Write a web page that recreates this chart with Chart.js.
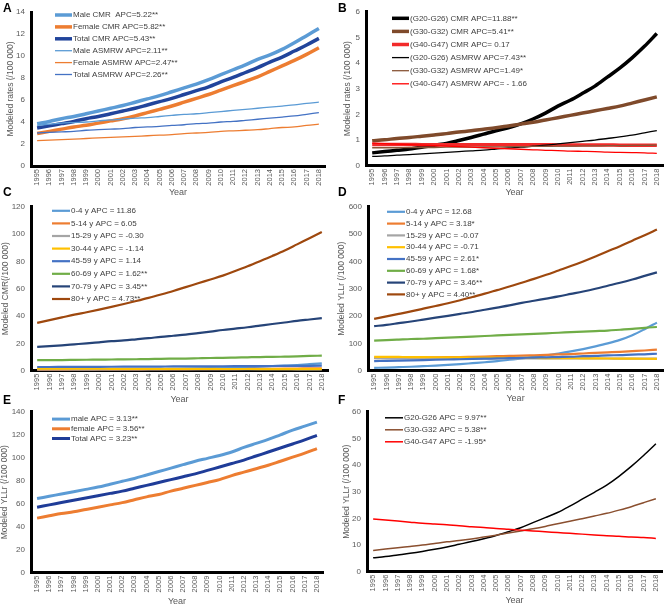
<!DOCTYPE html>
<html>
<head>
<meta charset="utf-8">
<script src="https://cdn.jsdelivr.net/npm/chart.js@4"></script>
<style>
  body { margin: 0; background: #fff; }
  .panel { position: absolute; }
  .tag { position: absolute; font: bold 12px "Liberation Sans", Arial, sans-serif; color: #000; }
</style>
</head>
<body>
<div class="panel" style="left:0;top:0"><canvas id="chartA" width="335" height="200"></canvas></div>
<div class="panel" style="left:335px;top:0"><canvas id="chartB" width="334" height="200"></canvas></div>
<div class="panel" style="left:0;top:196px"><canvas id="chartC" width="335" height="209"></canvas></div>
<div class="panel" style="left:335px;top:196px"><canvas id="chartD" width="334" height="209"></canvas></div>
<div class="panel" style="left:0;top:401px"><canvas id="chartE" width="335" height="206"></canvas></div>
<div class="panel" style="left:335px;top:401px"><canvas id="chartF" width="334" height="206"></canvas></div>
<div class="tag" style="left:3px;top:1px">A</div>
<div class="tag" style="left:338px;top:1px">B</div>
<div class="tag" style="left:3px;top:185px">C</div>
<div class="tag" style="left:338px;top:185px">D</div>
<div class="tag" style="left:3px;top:393px">E</div>
<div class="tag" style="left:338px;top:393px">F</div>
<script>
const years = ["1995", "1996", "1997", "1998", "1999", "2000", "2001", "2002", "2003", "2004", "2005", "2006",
  "2007", "2008", "2009", "2010", "2011", "2012", "2013", "2014", "2015", "2016", "2017", "2018"];

// A - modeled rates by sex
const aLabels = ["Male CMR  APC=5.22**", "Female CMR APC=5.82**", "Total CMR APC=5.43**",
  "Male ASMRW APC=2.11**", "Female ASMRW APC=2.47**", "Total ASMRW APC=2.26**"];
const aMaleCMR = [3.85, 4.05, 4.3, 4.5, 4.75, 5.0, 5.25, 5.5, 5.8, 6.1, 6.4, 6.75, 7.1, 7.45, 7.85, 8.3, 8.75, 9.2, 9.7, 10.1, 10.6, 11.2, 11.85, 12.5];
const aFemaleCMR = [2.95, 3.15, 3.35, 3.55, 3.7, 3.9, 4.1, 4.3, 4.55, 4.85, 5.15, 5.45, 5.8, 6.15, 6.5, 6.9, 7.3, 7.7, 8.1, 8.6, 9.1, 9.6, 10.15, 10.75];
const aTotalCMR = [3.45, 3.65, 3.85, 4.05, 4.3, 4.5, 4.75, 5.0, 5.25, 5.55, 5.85, 6.15, 6.5, 6.85, 7.2, 7.65, 8.05, 8.5, 8.95, 9.45, 9.9, 10.45, 11.0, 11.6];
const aMaleASMRW = [3.7, 3.8, 3.9, 3.95, 4.0, 4.1, 4.2, 4.25, 4.35, 4.4, 4.5, 4.6, 4.7, 4.75, 4.85, 4.95, 5.05, 5.15, 5.25, 5.35, 5.45, 5.55, 5.7, 5.8];
const aFemaleASMRW = [2.3, 2.35, 2.4, 2.45, 2.5, 2.55, 2.6, 2.65, 2.7, 2.75, 2.8, 2.85, 2.95, 3.0, 3.05, 3.15, 3.2, 3.25, 3.3, 3.4, 3.5, 3.55, 3.7, 3.8];
const aTotalASMRW = [3.0, 3.05, 3.1, 3.15, 3.25, 3.3, 3.35, 3.4, 3.5, 3.55, 3.6, 3.7, 3.75, 3.85, 3.9, 4.0, 4.05, 4.15, 4.25, 4.35, 4.45, 4.55, 4.7, 4.85];

// B - modeled rates by disease group
const bLabels = ["(G20-G26) CMR APC=11.88**", "(G30-G32) CMR APC=5.41**", "(G40-G47) CMR APC= 0.17",
  "(G20-G26) ASMRW APC=7.43**", "(G30-G32) ASMRW APC=1.49*", "(G40-G47) ASMRW APC= - 1.66"];
const bG20CMR = [0.5, 0.55, 0.6, 0.65, 0.72, 0.8, 0.87, 0.98, 1.1, 1.23, 1.36, 1.48, 1.63, 1.82, 2.05, 2.32, 2.55, 2.82, 3.1, 3.45, 3.8, 4.2, 4.65, 5.15];
const bG30CMR = [0.97, 1.01, 1.06, 1.1, 1.15, 1.2, 1.25, 1.31, 1.36, 1.42, 1.48, 1.55, 1.62, 1.69, 1.78, 1.87, 1.96, 2.05, 2.14, 2.23, 2.32, 2.44, 2.56, 2.68];
const bG40CMR = [0.83, 0.83, 0.83, 0.83, 0.82, 0.82, 0.82, 0.82, 0.82, 0.82, 0.82, 0.82, 0.82, 0.82, 0.82, 0.81, 0.81, 0.81, 0.81, 0.81, 0.8, 0.8, 0.8, 0.8];
const bG20ASMRW = [0.36, 0.38, 0.41, 0.43, 0.46, 0.49, 0.52, 0.55, 0.58, 0.61, 0.65, 0.69, 0.72, 0.76, 0.8, 0.85, 0.9, 0.95, 1.0, 1.06, 1.12, 1.19, 1.28, 1.37];
const bG30ASMRW = [0.7, 0.7, 0.7, 0.71, 0.71, 0.71, 0.72, 0.72, 0.72, 0.73, 0.73, 0.74, 0.74, 0.75, 0.75, 0.76, 0.76, 0.77, 0.77, 0.78, 0.78, 0.79, 0.79, 0.8];
const bG40ASMRW = [0.88, 0.86, 0.84, 0.82, 0.8, 0.78, 0.76, 0.74, 0.72, 0.7, 0.68, 0.66, 0.64, 0.62, 0.6, 0.59, 0.57, 0.56, 0.55, 0.53, 0.52, 0.51, 0.5, 0.48];

// C - CMR by age group
const cLabels = ["0-4 y APC = 11.86", "5-14 y APC = 6.05", "15-29 y APC = -0.30", "30-44 y APC = -1.14",
  "45-59 y APC = 1.14", "60-69 y APC = 1.62**", "70-79 y APC = 3.45**", "80+ y APC = 4.73**"];
const cAge0 = [0.4, 0.45, 0.5, 0.55, 0.62, 0.7, 0.78, 0.87, 0.97, 1.08, 1.2, 1.35, 1.5, 1.68, 1.88, 2.1, 2.35, 2.63, 2.95, 3.3, 3.7, 4.15, 4.75, 5.4];
const cAge5 = [0.6, 0.62, 0.65, 0.68, 0.7, 0.73, 0.76, 0.8, 0.83, 0.87, 0.9, 0.95, 1.0, 1.05, 1.1, 1.15, 1.2, 1.27, 1.35, 1.42, 1.5, 1.6, 1.7, 1.8];
const cAge15 = [0.95, 0.95, 0.94, 0.94, 0.93, 0.93, 0.92, 0.92, 0.91, 0.91, 0.9, 0.9, 0.9, 0.89, 0.89, 0.88, 0.88, 0.88, 0.87, 0.87, 0.87, 0.86, 0.86, 0.86];
const cAge30 = [1.5, 1.48, 1.46, 1.45, 1.43, 1.42, 1.4, 1.38, 1.37, 1.35, 1.34, 1.32, 1.31, 1.29, 1.28, 1.26, 1.25, 1.23, 1.22, 1.2, 1.19, 1.18, 1.16, 1.15];
const cAge45 = [2.7, 2.7, 2.75, 2.8, 2.8, 2.85, 2.9, 2.95, 3.0, 3.0, 3.05, 3.1, 3.1, 3.15, 3.2, 3.25, 3.3, 3.35, 3.4, 3.45, 3.5, 3.55, 3.6, 3.65];
const cAge60 = [7.8, 7.8, 7.8, 7.9, 8.0, 8.1, 8.2, 8.3, 8.4, 8.5, 8.7, 8.8, 8.9, 9.1, 9.3, 9.4, 9.6, 9.8, 10.0, 10.1, 10.3, 10.5, 10.8, 11.0];
const cAge70 = [17.5, 18, 18.6, 19.3, 20, 20.8, 21.6, 22.2, 23, 23.8, 24.8, 25.6, 26.4, 27.5, 28.6, 29.8, 30.8, 31.8, 33, 34.2, 35.3, 36.5, 37.5, 38.5];
const cAge80 = [35, 37, 39, 41, 42.8, 44.7, 46.7, 48.8, 51, 53.3, 55.8, 58.4, 61.2, 64, 66.8, 69.6, 73, 76.5, 80.2, 84, 88, 92.5, 97, 101.5];

// D - YLLr by age group
const dLabels = ["0-4 y APC = 12.68", "5-14 y APC = 3.18*", "15-29 y APC = -0.07", "30-44 y APC = -0.71",
  "45-59 y APC = 2.61*", "60-69 y APC = 1.68*", "70-79 y APC = 3.46**", "80+ y APC = 4.40**"];
const dAge0 = [10.5, 11.5, 13, 14.5, 16.5, 18.5, 21, 24, 27.5, 31, 35, 40, 45, 50.5, 56.5, 63, 70.5, 79, 89, 100, 113, 130, 152, 176];
const dAge5 = [47, 47, 47.5, 48, 48.5, 49, 49.5, 50, 51, 52, 53, 54, 55, 56.5, 58, 59.5, 61, 63, 65, 67, 69, 71.5, 74, 77];
const dAge15 = [45.5, 45.4, 45.4, 45.3, 45.3, 45.2, 45.2, 45.1, 45.1, 45, 45, 45, 44.9, 44.9, 44.8, 44.8, 44.7, 44.7, 44.6, 44.6, 44.5, 44.5, 44.4, 44.4];
const dAge30 = [51, 50.6, 50.3, 50, 49.6, 49.3, 49, 48.6, 48.3, 48, 47.6, 47.3, 47, 46.6, 46.3, 46, 45.7, 45.4, 45, 44.7, 44.4, 44.1, 43.8, 43.5];
const dAge45 = [35, 36, 37, 38, 39, 40, 41, 42, 43, 44, 45, 46, 47, 48, 49, 50, 51, 53, 54, 56, 57, 59, 60, 62];
const dAge60 = [110, 112, 114, 116, 117, 119, 121, 123, 125, 127, 129, 131, 133, 135, 137, 139, 141, 143, 145, 147, 150, 153, 157, 160];
const dAge70 = [163, 168, 174, 180, 187, 194, 201, 208, 215, 223, 231, 239, 248, 256, 264, 272, 281, 290, 300, 311, 322, 334, 347, 360];
const dAge80 = [190, 199, 208, 217, 227, 237, 247, 258, 270, 282, 295, 308, 322, 336, 351, 367, 383, 400, 418, 437, 456, 476, 496, 517];

// E - YLLr by sex
const eLabels = ["male APC = 3.13**", "female APC = 3.56**", "Total APC = 3.23**"];
const eMale = [64.5, 66.5, 68.5, 70.5, 72.5, 74.5, 77, 79.5, 82, 85, 88, 91, 94, 97, 99.5, 102, 105, 109, 112.5, 116, 120, 124, 127.5, 131];
const eFemale = [47.5, 49.5, 51.5, 53, 55, 57, 59, 61, 63.5, 66, 68, 71, 73.5, 76, 78.5, 81, 84.5, 87.5, 90.5, 93.5, 97, 100.5, 104, 108];
const eTotal = [57, 59, 61, 63, 65, 67, 69, 71, 73.5, 76, 78.5, 81, 83.5, 86, 89, 92, 95, 98, 101.5, 105, 108.5, 112, 115.5, 119.5];

// F - YLLr by disease group
const fLabels = ["G20-G26 APC = 9.97**", "G30-G32 APC = 5.38**", "G40-G47 APC = -1.95*"];
const fG20 = [5.2, 5.7, 6.3, 6.9, 7.6, 8.4, 9.3, 10.3, 11.3, 12.4, 13.6, 15.0, 16.5, 18.4, 20.3, 22.2, 24.6, 27.2, 29.8, 32.5, 35.8, 39.5, 43.6, 48];
const fG30 = [8, 8.5, 9, 9.5, 10, 10.6, 11.2, 11.7, 12.3, 13, 13.7, 14.5, 15.3, 16.1, 17, 18, 18.9, 19.9, 20.9, 21.9, 23.1, 24.4, 25.9, 27.4];
const fG40 = [19.8, 19.4, 19.0, 18.6, 18.2, 17.9, 17.6, 17.2, 16.9, 16.6, 16.2, 15.9, 15.6, 15.3, 15.0, 14.7, 14.4, 14.1, 13.8, 13.5, 13.3, 13.0, 12.8, 12.5];

Chart.defaults.font.family = '"Liberation Sans", Arial, sans-serif';
Chart.defaults.color = "#595959";

// legend drawn inside the plot, top left
const insideLegend = {
  id: "insideLegend",
  afterDatasetsDraw(chart, args, opts) {
    const ctx = chart.ctx;
    const area = chart.chartArea;
    ctx.save();
    ctx.font = '8px "Liberation Sans", Arial, sans-serif';
    ctx.textBaseline = "middle";
    chart.data.datasets.forEach((ds, i) => {
      const x = area.left + opts.x;
      const y = area.top + opts.y + i * opts.gap;
      ctx.strokeStyle = ds.borderColor;
      ctx.lineWidth = ds.borderWidth;
      ctx.beginPath();
      ctx.moveTo(x, y);
      ctx.lineTo(x + opts.len, y);
      ctx.stroke();
      ctx.fillStyle = "#404040";
      ctx.fillText(ds.label, x + opts.len + 1, y);
    });
    ctx.restore();
  },
};

function series(labels, values, colors, widths) {
  return values.map((v, i) => ({
    label: labels[i],
    data: v,
    borderColor: colors[i],
    borderWidth: widths[i],
    pointRadius: 0,
    cubicInterpolationMode: "monotone",
    order: -i,
  }));
}

function panel(id, datasets, p) {
  return new Chart(document.getElementById(id), {
    type: "line",
    data: { labels: years, datasets: datasets },
    plugins: [insideLegend],
    options: {
      responsive: false,
      animation: false,
      layout: { padding: { top: p.top, right: p.right, left: 0, bottom: 0 } },
      plugins: {
        legend: { display: false },
        tooltip: { enabled: false },
        insideLegend: p.legend,
      },
      scales: {
        x: {
          offset: true,
          grid: { display: false, drawTicks: false },
          border: { color: "#000", width: 3 },
          ticks: { autoSkip: false, minRotation: 90, maxRotation: 90, padding: 3, font: { size: 7.5 } },
          title: { display: true, text: "Year", font: { size: 9 }, padding: { top: 0, bottom: p.yearPad } },
          afterFit: (s) => { s.height = p.xh; },
        },
        y: {
          min: 0,
          max: p.max,
          grid: { display: false, drawTicks: false },
          border: { color: "#000", width: 3 },
          ticks: { stepSize: p.step, padding: 6, font: { size: 8 } },
          title: { display: true, text: p.yTitle, font: { size: 8.5 }, padding: { top: p.titlePad, bottom: 0 } },
          afterFit: (s) => { s.width = p.yw; },
        },
      },
    },
  });
}

//Graph A
panel("chartA", series(aLabels, [aMaleCMR, aFemaleCMR, aTotalCMR, aMaleASMRW, aFemaleASMRW, aTotalASMRW],
  ["#5B9BD5", "#ED7D31", "#21449B", "#5B9BD5", "#ED7D31", "#4472C4"], [3.5, 3.5, 3.5, 1.3, 1.3, 1.3]),
  { top: 12, right: 10, xh: 34, yw: 31, yearPad: 2, max: 14, step: 2, titlePad: 6,
    yTitle: "Modeled rates (/100 000)", legend: { x: 24, y: 3, gap: 11.9, len: 17 } });

//Graph B
panel("chartB", series(bLabels, [bG20CMR, bG30CMR, bG40CMR, bG20ASMRW, bG30ASMRW, bG40ASMRW],
  ["#000000", "#7F4A2B", "#F22A2A", "#000000", "#8A5638", "#FF0000"], [3.5, 3.5, 3.5, 1.3, 1.3, 1.3]),
  { top: 11.7, right: 6, xh: 34.3, yw: 31, yearPad: 2, max: 6, step: 1, titlePad: 8,
    yTitle: "Modeled rates (/100 000)", legend: { x: 26, y: 6.6, gap: 13.1, len: 17 } });

//Graph C
panel("chartC", series(cLabels, [cAge0, cAge5, cAge15, cAge30, cAge45, cAge60, cAge70, cAge80],
  ["#5B9BD5", "#ED7D31", "#A5A5A5", "#FFC000", "#4472C4", "#70AD47", "#264478", "#9E480E"], [2.2, 2.2, 2.2, 2.2, 2.2, 2.2, 2.2, 2.2]),
  { top: 5.7, right: 7, xh: 34.3, yw: 31, yearPad: 0, max: 120, step: 20, titlePad: 1,
    yTitle: "Modeled CMR(/100 000)", legend: { x: 21, y: 4, gap: 12.6, len: 18 } });

//Graph D
panel("chartD", series(dLabels, [dAge0, dAge5, dAge15, dAge30, dAge45, dAge60, dAge70, dAge80],
  ["#5B9BD5", "#ED7D31", "#A5A5A5", "#FFC000", "#4472C4", "#70AD47", "#264478", "#9E480E"], [2.2, 2.2, 2.2, 2.2, 2.2, 2.2, 2.2, 2.2]),
  { top: 6.3, right: 4, xh: 34.3, yw: 33, yearPad: 1, max: 600, step: 100, titlePad: 2,
    yTitle: "Modeled YLLr (/100 000)", legend: { x: 19, y: 5, gap: 11.8, len: 18 } });

//Graph E
panel("chartE", series(eLabels, [eMale, eFemale, eTotal],
  ["#5B9BD5", "#ED7D31", "#1F3C98"], [3, 3, 3]),
  { top: 5.7, right: 12, xh: 34.3, yw: 31, yearPad: 0, max: 140, step: 20, titlePad: 0,
    yTitle: "Modeled YLLr (/100 000)", legend: { x: 21, y: 7.3, gap: 9.7, len: 18 } });

//Graph F
panel("chartF", series(fLabels, [fG20, fG30, fG40],
  ["#000000", "#8A4F2F", "#FF0000"], [1.5, 1.5, 1.5]),
  { top: 6.3, right: 7, xh: 35.3, yw: 32, yearPad: 1, max: 60, step: 10, titlePad: 7,
    yTitle: "Modeled YLLr (/100 000)", legend: { x: 18, y: 6, gap: 12, len: 18 } });
</script>
</body>
</html>
